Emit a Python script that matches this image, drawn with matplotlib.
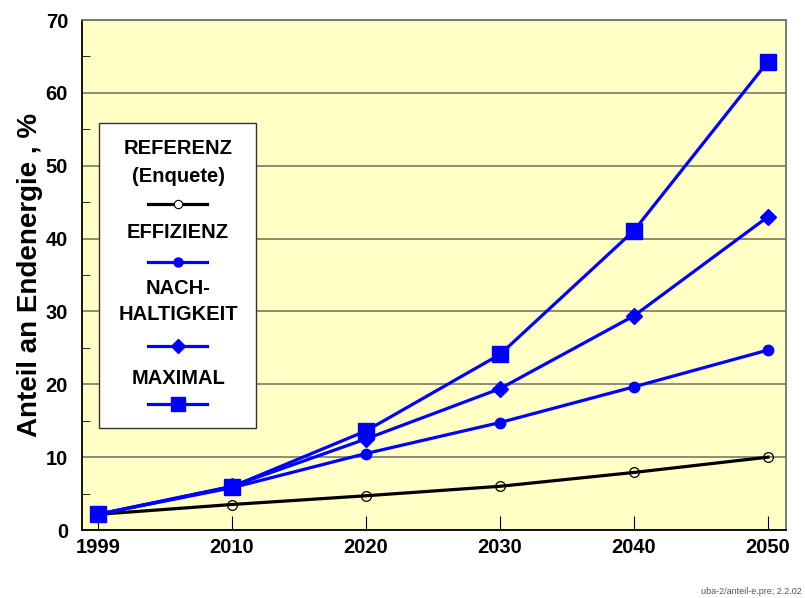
import matplotlib
matplotlib.use("Agg")
import matplotlib.pyplot as plt
from matplotlib.lines import Line2D
from matplotlib.patches import Rectangle
from matplotlib.ticker import MultipleLocator

plt.rcParams['font.family'] = ['Liberation Sans', 'DejaVu Sans']
plt.rcParams['font.weight'] = 'bold'

years = ["1999", "2010", "2020", "2030", "2040", "2050"]
referenz = [2.15, 3.5, 4.7, 6.0, 7.9, 10.0]
effizienz = [2.15, 5.8, 10.5, 14.75, 19.65, 24.7]
nachhaltigkeit = [2.15, 6.0, 12.5, 19.4, 29.4, 43.0]
maximal = [2.15, 5.95, 13.6, 24.1, 41.1, 64.3]

fig = plt.figure(figsize=(8.05, 5.98), dpi=100)
ax = fig.add_axes([82/805, 1-530/598, 704/805, 510/598])
ax.set_facecolor('#FFFFC6')

x = list(range(len(years)))
blue = '#0000FF'
ax.plot(x, referenz, color='black', lw=2.3, marker='o', ms=7, mfc='none', mec='black', mew=0.9, zorder=3)
ax.plot(x, effizienz, color=blue, lw=2.3, marker='o', ms=7.5, mfc=blue, mec=blue, zorder=4)
ax.plot(x, nachhaltigkeit, color=blue, lw=2.3, marker='D', ms=8, mfc=blue, mec=blue, zorder=4)
ax.plot(x, maximal, color=blue, lw=2.3, marker='s', ms=11, mfc=blue, mec=blue, zorder=5)

ax.set_xlim(-16/134, 5 + 18/134)
ax.set_ylim(0, 70)
ax.set_xticks(x)
ax.set_xticklabels(years, fontsize=14.5, fontweight='bold')
ax.yaxis.set_major_locator(MultipleLocator(10))
ax.yaxis.set_minor_locator(MultipleLocator(5))
ax.tick_params(axis='y', which='major', direction='in', length=0, labelsize=14.5, pad=10)
ax.tick_params(axis='y', which='minor', direction='in', length=6, color='black')
ax.tick_params(axis='x', which='major', direction='in', length=10, labelsize=14.5, pad=6)
for lbl in ax.get_yticklabels():
    lbl.set_fontweight('bold')
ax.grid(axis='y', which='major', color='#6E6E5A', lw=1.1, zorder=1)
ax.set_axisbelow(True)
for s in ['left', 'bottom']:
    ax.spines[s].set_color('black')
    ax.spines[s].set_linewidth(1.3)
for s in ['top', 'right']:
    ax.spines[s].set_color('#707070')
    ax.spines[s].set_linewidth(1.3)

ax.set_ylabel('Anteil an Endenergie , %', fontsize=20, fontweight='bold', labelpad=2)

# custom legend box (axes coords)
def ay(py):
    return (530 - py) / 510
def axx(px):
    return (px - 82) / 704

ax.add_patch(Rectangle((axx(99), ay(428)), axx(256) - axx(99), ay(123) - ay(428),
                       transform=ax.transAxes, facecolor='white', edgecolor='#333333', lw=1.0, zorder=6))
cx = axx(178)
fs = 14.5
for txt, py in [("REFERENZ", 148), ("(Enquete)", 177), ("EFFIZIENZ", 233), ("NACH-", 289),
                ("HALTIGKEIT", 314), ("MAXIMAL", 378)]:
    ax.text(cx, ay(py), txt, transform=ax.transAxes, ha='center', va='center',
            fontsize=fs, fontweight='bold', zorder=7)
lx = [axx(148), axx(207)]
handles = [
    (204, dict(color='black', marker='o', ms=6, mfc='white', mec='black', mew=0.8, lw=2.3)),
    (262, dict(color=blue, marker='o', ms=6.5, mfc=blue, mec=blue, lw=2.3)),
    (346, dict(color=blue, marker='D', ms=7.5, mfc=blue, mec=blue, lw=2.3)),
    (404, dict(color=blue, marker='s', ms=10, mfc=blue, mec=blue, lw=2.3)),
]
for py, kw in handles:
    ln = Line2D(lx, [ay(py), ay(py)], transform=ax.transAxes, zorder=7, **kw)
    ln.set_markevery([])
    ax.add_line(ln)
    ax.add_line(Line2D([sum(lx)/2], [ay(py)], transform=ax.transAxes, zorder=8, ls='none', **{k: v for k, v in kw.items() if k not in ('lw',)}))

fig.text(802/805, 1 - 592/598, 'uba-2/anteil-e.pre; 2.2.02', ha='right', va='center',
         fontsize=6.5, color='#555555', fontweight='normal')

fig.savefig('out.png', dpi=100)
